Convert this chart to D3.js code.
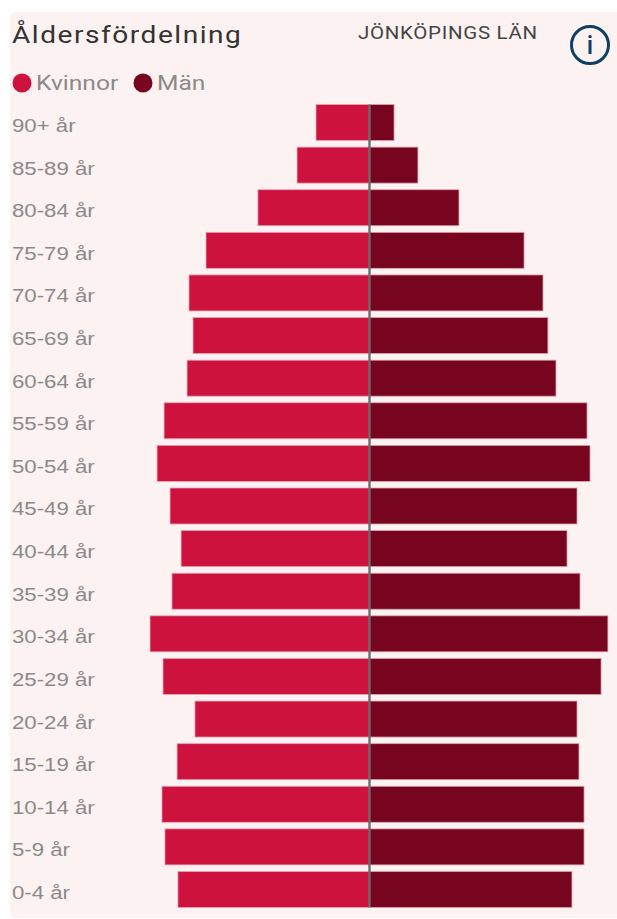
<!DOCTYPE html>
<html>
<head>
<meta charset="utf-8">
<script src="https://cdn.jsdelivr.net/npm/d3@7"></script>
<style>
html, body { margin: 0; padding: 0; background: #fff; }
svg { display: block; }
</style>
</head>
<body>
<div id="chart"></div>
<script>
// aldersgrupper, uppifran och ner
var grupper = ["90+ år", "85-89 år", "80-84 år", "75-79 år", "70-74 år", "65-69 år", "60-64 år", "55-59 år", "50-54 år", "45-49 år", "40-44 år", "35-39 år", "30-34 år", "25-29 år", "20-24 år", "15-19 år", "10-14 år", "5-9 år", "0-4 år"];
var kvinnor = [3050, 4130, 6360, 9320, 10290, 10060, 10400, 11710, 12110, 11370, 10740, 11260, 12510, 11770, 9950, 10970, 11830, 11660, 10920];
var man = [1400, 2760, 5100, 8810, 9890, 10170, 10630, 12400, 12570, 11830, 11260, 12000, 13590, 13200, 11830, 11940, 12230, 12230, 11540];
var legendNamn = ["Kvinnor", "Män"];

var width = 617;
var height = 919;
var mitten = 369.5;
var fargKvinnor = "#cd123e";
var fargMan = "#78051f";
var strackt = 1.17; // bilden ar lite utdragen pa bredden

var svg = d3.select("#chart").append("svg")
	.attr("width", width)
	.attr("height", height);

svg.append("rect")
	.attr("x", 10)
	.attr("y", 12)
	.attr("width", width)
	.attr("height", 906)
	.attr("rx", 6)
	.style("fill", "#fdf2f2");

var x = d3.scaleLinear().domain([0, 14000]).range([0, 245.6]);
var y = d3.scaleBand().domain(grupper).range([104.5, 907.5]).paddingInner(0.155);

var rader = grupper.map(function(g, i){ return {grupp: g, kvinnor: kvinnor[i], man: man[i]}; });

svg.selectAll("rect.kvinnor")
	.data(rader)
	.enter()
	.append("rect")
	.attr("class", "kvinnor")
	.attr("x", function(d){ return mitten - x(d.kvinnor); })
	.attr("y", function(d){ return y(d.grupp); })
	.attr("width", function(d){ return x(d.kvinnor); })
	.attr("height", y.bandwidth())
	.style("fill", fargKvinnor)
	.style("stroke", "#e9a3b5")
	.style("stroke-width", 0.8);

svg.selectAll("rect.man")
	.data(rader)
	.enter()
	.append("rect")
	.attr("class", "man")
	.attr("x", mitten)
	.attr("y", function(d){ return y(d.grupp); })
	.attr("width", function(d){ return x(d.man); })
	.attr("height", y.bandwidth())
	.style("fill", fargMan)
	.style("stroke", "#d9a3b0")
	.style("stroke-width", 0.8);

// mittlinjen
svg.append("line")
	.attr("x1", mitten)
	.attr("x2", mitten)
	.attr("y1", 104.5)
	.attr("y2", 907.5)
	.style("stroke", "#6f6a6c")
	.style("stroke-width", 2.4);

// aldersetiketter
var yAxel = d3.axisLeft(y).tickSize(0);
var axelG = svg.append("g")
	.attr("transform", "translate(12,3) scale(" + 1.2 + ",1)")
	.call(yAxel);
axelG.select(".domain").remove();
axelG.selectAll("text")
	.attr("x", 0)
	.attr("dy", "0.35em")
	.attr("text-anchor", "start")
	.attr("font-family", "'Liberation Sans', Arial, sans-serif")
	.attr("font-size", "18.5px")
	.attr("fill", "#8a8a8a");

// rubrik
svg.append("text")
	.attr("transform", "translate(12,43) scale(" + strackt + ",1)")
	.text("Åldersfördelning")
	.attr("font-family", "Roboto, sans-serif")
	.attr("font-size", "24px")
	.attr("letter-spacing", "1.3px")
	.attr("fill", "#333333");

svg.append("text")
	.attr("transform", "translate(358,39) scale(" + strackt + ",1)")
	.text("JÖNKÖPINGS LÄN")
	.attr("font-family", "Roboto, sans-serif")
	.attr("font-size", "17.5px")
	.attr("letter-spacing", "0.6px")
	.attr("fill", "#444444");

// info-ikon
svg.append("circle")
	.attr("cx", 590)
	.attr("cy", 45)
	.attr("r", 18.5)
	.style("fill", "none")
	.style("stroke", "#0f3f63")
	.style("stroke-width", 3);
svg.append("text")
	.attr("x", 590)
	.attr("y", 54)
	.attr("text-anchor", "middle")
	.text("i")
	.attr("font-family", "Roboto, sans-serif")
	.attr("font-weight", 500)
	.attr("font-size", "25px")
	.attr("fill", "#0f3f63");

// legend
var legendX = [22, 143];
var legendFarg = [fargKvinnor, fargMan];
legendNamn.forEach(function(namn, i){
	svg.append("circle")
		.attr("cx", legendX[i])
		.attr("cy", 83)
		.attr("r", 9.5)
		.style("fill", legendFarg[i]);
	svg.append("text")
		.attr("transform", "translate(" + (legendX[i] + 14) + ",90) scale(" + strackt + ",1)")
		.text(namn)
		.attr("font-family", "Roboto, sans-serif")
		.attr("font-size", "21px")
		.attr("fill", "#8a8a8a");
});
</script>
</body>
</html>
